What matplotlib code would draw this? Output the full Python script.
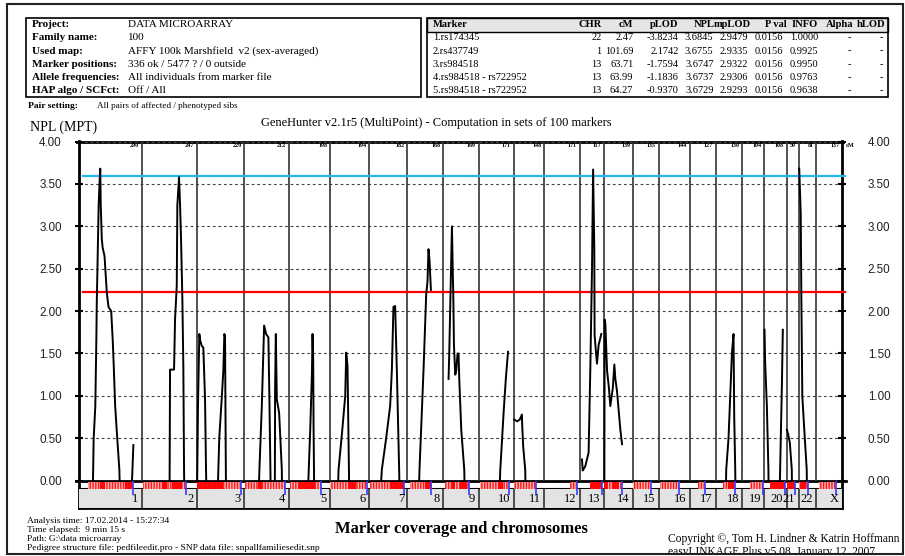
import numpy as np
import matplotlib
matplotlib.use('Agg')
import matplotlib.pyplot as plt
from matplotlib.patches import Rectangle
import matplotlib.transforms as mtransforms

plt.rcParams['hatch.linewidth'] = 1.0
SERIF = ['Liberation Serif', 'DejaVu Serif']
SANS = ['Liberation Sans', 'DejaVu Sans']

# ---------------- data ----------------
chrom_names = ['1', '2', '3', '4', '5', '6', '7', '8', '9', '10', '11', '12', '13',
               '14', '15', '16', '17', '18', '19', '20', '21', '22', 'X']
chrom_len = [300, 263, 228, 211, 198, 189, 182, 171, 169, 167, 147, 170, 116,
             139, 122, 148, 126, 127, 105, 107, 57, 83, 124]
chrom_len_labels = ['290', '247', '229', '212', '198', '194', '182', '168', '169', '171', '148', '171', '117',
                    '139', '135', '144', '127', '130', '104', '108', '59', '81', '137']

y_ticks = [0.0, 0.5, 1.0, 1.5, 2.0, 2.5, 3.0, 3.5, 4.0]
threshold_high = 3.59
threshold_low = 2.23

chr1a_cM = [65, 70, 78, 83, 85, 90, 94, 98, 101.7, 104, 109, 113, 122, 133, 141, 154, 161, 165, 173, 181, 193, 196]
chr1a_npl = [-0.3, 0.49, 0.88, 1.67, 2.1, 2.73, 3.25, 3.5, 3.68, 3.25, 2.85, 2.75, 2.65, 2.22, 2.05, 2.0, 1.67, 1.43, 0.88, 0.57, 0.13, -0.2]
chr1b_cM = [252, 260]
chr1b_npl = [-0.1, 0.42]
chr2_cM = [133, 135.4, 154.6, 159.3, 167.5, 170.3, 178.5, 183.3, 188, 194.3, 199, 202.4, 203.8]
chr2_npl = [-0.2, 1.31, 1.31, 1.9, 2.3, 3.25, 3.58, 3.25, 2.85, 2.15, 1.34, 0.13, -0.2]
chr3a_cM = [1.4, 6.2, 12.4, 17.2, 23.9, 31.6, 39.7, 44.5, 46.9]
chr3a_npl = [-0.2, 0.9, 1.73, 1.65, 1.59, 1.57, 0.97, 0.13, -0.2]
chr3b_cM = [99.5, 108.1, 119.6, 127.3, 132.1, 135.4, 138.8, 140.2]
chr3b_npl = [-0.2, 0.52, 0.97, 1.3, 1.73, 1.7, 0.3, -0.2]
chr4a_cM = [67.9, 71.8, 83.3, 94.3, 103.8, 114.8, 119.6, 124.4, 125.8]
chr4a_npl = [-0.2, 0.13, 0.88, 1.83, 1.73, 1.69, 0.96, 0.13, -0.2]
chr4b_cM = [145.5, 146.9, 150.3, 155.1, 166.1, 179, 180.4]
chr4b_npl = [-0.2, 1.1, 1.73, 0.96, 0.8, 0.13, -0.2]
chr5_cM = [91.9, 103.8, 112, 114.8, 118.2, 119.6, 123]
chr5_npl = [-0.2, 0.6, 1.27, 1.73, 1.4, 0.7, -0.2]
chr6_cM = [37.3, 41.2, 57.4, 73.2, 78, 84.2, 90.9, 92.4]
chr6_npl = [-0.2, 0.13, 0.55, 1.0, 1.51, 1.35, 0.13, -0.2]
chr7_cM = [51.2, 59.3, 79.9, 99, 107.2, 114.8, 123, 131.1, 142.1, 144.5]
chr7_npl = [-0.2, 0.13, 0.5, 0.88, 1.3, 2.05, 2.06, 1.3, 0.13, -0.2]
chr8_cM = [53.6, 57.4, 76.6, 89.5, 95.7, 100.5, 105.3, 112]
chr8_npl = [-0.2, 0.13, 1.3, 2.2, 2.35, 2.73, 2.6, 2.25]
chr9_cM = [25.4, 28.7, 35.9, 41.6, 44.5, 47.9, 51.2, 57.4, 62.2, 68.4, 73.2, 76.6, 86.1, 100.5, 102.9]
chr9_npl = [1.2, 1.5, 2.35, 3.0, 2.6, 2.2, 1.6, 1.25, 1.3, 1.5, 1.5, 1.2, 0.6, 0.13, -0.2]
chr10_cM = [99, 103.8, 119.6, 130.2, 140.7]
chr10_npl = [-0.2, 0.13, 0.8, 1.2, 1.52]
chr11_cM = [3.3, 17.7, 29.7, 40.2, 41.6, 46.4, 56, 58.4]
chr11_npl = [0.72, 0.7, 0.72, 0.78, 0.65, 0.4, 0.13, -0.2]
chr13_cM = [10.5, 14, 26.3, 42.1, 50.2, 58.4, 63.7, 69.4, 70.8, 77.5, 82.3, 90, 102.9]
chr13_npl = [0.25, 0.12, 0.17, 0.33, 1.3, 2.5, 3.67, 2.73, 1.72, 1.51, 1.38, 1.6, 1.73]
chr14_cM = [1.4, 2.9, 6.2, 14.4, 23, 30.1, 42.1, 49.3, 54.1, 62.2, 78, 86.1]
chr14_npl = [-0.2, 1.9, 1.85, 1.3, 1.1, 0.88, 1.1, 1.37, 1.2, 1.05, 0.6, 0.43]
chr18_cM = [46.9, 49.3, 60.3, 68.4, 76.6, 84.2, 87.6, 92.4, 93.9]
chr18_npl = [-0.2, 0.13, 0.5, 1.0, 1.5, 1.73, 0.75, 0.13, -0.2]
chr20a_cM = [0.5, 3.3, 11.5, 19.1, 20.6]
chr20a_npl = [1.78, 1.4, 0.9, 0.13, -0.2]
chr20b_cM = [72.7, 75.1, 83.3, 88]
chr20b_npl = [-0.2, 0.13, 1.1, 1.78]
chr21_cM = [0.5, 6.2, 14.4, 23.9, 25.4]
chr21_npl = [0.6, 0.55, 0.45, 0.13, -0.2]
chr22_cM = [2.47, 9.6, 11, 12.4, 17.2, 25.4, 38.3, 39.7]
chr22_npl = [3.68, 3.15, 2.7, 2.2, 1.0, 0.65, 0.13, -0.2]

# marker coverage (cM within chromosome)
marker_light = [('1', 43, 262), ('2', 8, 207), ('3', 0, 211), ('4', 3, 196), ('5', 8, 156),
                ('6', 0, 177), ('7', 3, 163), ('8', 13, 117), ('9', 10, 121), ('10', 8, 144),
                ('11', 0, 109), ('12', 124, 156), ('13', 50, 106), ('14', 1, 86), ('15', 1, 86),
                ('16', 8, 99), ('17', 42, 72), ('18', 35, 92), ('19', 37, 98), ('20', 27, 99),
                ('21', 0, 40), ('22', 0, 46), ('X', 16, 96)]
marker_dark = [('1', 100, 124), ('1', 220, 252), ('2', 96, 120), ('2', 144, 191), ('3', 0, 127),
               ('4', 66, 85), ('5', 46, 128), ('6', 88, 126), ('7', 99, 163), ('8', 85, 113),
               ('9', 42, 57), ('9', 81, 113), ('10', 94, 118), ('13', 50, 106), ('14', 1, 20),
               ('14', 40, 70), ('18', 59, 92), ('20', 27, 99), ('21', 0, 40), ('22', 6, 35)]
last_marker_cM = [260, 211, 211, 196, 156, 177, 163, 113, 121, 144, 109, 156, 106,
                  86, 86, 99, 72, 92, 98, 99, 40, 46, 96]

left_labels = ['Project:', 'Family name:', 'Used map:', 'Marker positions:',
               'Allele frequencies:', 'HAP algo / SCFct:']
left_values = ['DATA MICROARRAY', '100', 'AFFY 100k Marshfield  v2 (sex-averaged)',
               '336 ok / 5477 ? / 0 outside', 'All individuals from marker file', 'Off / All']

tbl_header = ['Marker', 'CHR', 'cM', 'pLOD', 'NPL', 'mpLOD', 'P val', 'INFO', 'Alpha', 'hLOD']
tbl_marker = ['1.rs174345', '2.rs437749', '3.rs984518', '4.rs984518 - rs722952', '5.rs984518 - rs722952']
tbl_chr = ['22', '1', '13', '13', '13']
tbl_cm = ['2.47', '101.69', '63.71', '63.99', '64.27']
tbl_plod = ['-3.8234', '2.1742', '-1.7594', '-1.1836', '-0.9370']
tbl_npl = ['3.6845', '3.6755', '3.6747', '3.6737', '3.6729']
tbl_mplod = ['2.9479', '2.9335', '2.9322', '2.9306', '2.9293']
tbl_pval = ['0.0156', '0.0156', '0.0156', '0.0156', '0.0156']
tbl_info = ['1.0000', '0.9925', '0.9950', '0.9763', '0.9638']
tbl_alpha = ['-', '-', '-', '-', '-']
tbl_hlod = ['-', '-', '-', '-', '-']

footer_lines = ['Analysis time: 17.02.2014 - 15:27:34', 'Time elapsed:  9 min 15 s',
                'Path: G:\\data microarray',
                'Pedigree structure file: pedfileedit.pro - SNP data file: snpallfamiliesedit.snp']

npl_segments = [('1', chr1a_cM, chr1a_npl), ('1', chr1b_cM, chr1b_npl), ('2', chr2_cM, chr2_npl),
                ('3', chr3a_cM, chr3a_npl), ('3', chr3b_cM, chr3b_npl), ('4', chr4a_cM, chr4a_npl),
                ('4', chr4b_cM, chr4b_npl), ('5', chr5_cM, chr5_npl), ('6', chr6_cM, chr6_npl),
                ('7', chr7_cM, chr7_npl), ('8', chr8_cM, chr8_npl), ('9', chr9_cM, chr9_npl),
                ('10', chr10_cM, chr10_npl), ('11', chr11_cM, chr11_npl), ('13', chr13_cM, chr13_npl),
                ('14', chr14_cM, chr14_npl), ('18', chr18_cM, chr18_npl), ('20', chr20a_cM, chr20a_npl),
                ('20', chr20b_cM, chr20b_npl), ('21', chr21_cM, chr21_npl), ('22', chr22_cM, chr22_npl)]

# ---------------- figure ----------------
W, H = 905, 556
fig = plt.figure(figsize=(W / 100, H / 100), dpi=100)
bg = fig.add_axes([0, 0, 1, 1])
bg.set_xlim(0, W)
bg.set_ylim(H, 0)
bg.axis('off')


def px_axes(x0, y0, x1, y1):
    return [x0 / W, 1 - y1 / H, (x1 - x0) / W, (y1 - y0) / H]


ends = np.cumsum(chrom_len)
offsets = ends - np.array(chrom_len)
off = dict(zip(chrom_names, offsets))
total = ends[-1]

PX0, PX1, PY0, PY1 = 79, 842, 141.5, 480.7

ax = fig.add_axes(px_axes(PX0, PY0, PX1, PY1))
ax.set_xlim(0, total)
ax.set_ylim(0, 4)
ax.patch.set_alpha(0)
for s in ax.spines.values():
    s.set_visible(False)
ax.set_xticks([])
ax.set_yticks(y_ticks)
ax.set_yticklabels(['%.2f' % v for v in y_ticks], family=SANS, fontsize=8.4, color='#222222')
ax.tick_params(axis='y', direction='inout', length=6, width=1.5, pad=9.5)
ax.yaxis.grid(True, linestyle=(0, (2.5, 2.5)), color='#444444', lw=0.8)
ax.set_axisbelow(True)

ax2 = ax.twinx()
ax2.set_ylim(0, 4)
for s in ax2.spines.values():
    s.set_visible(False)
ax2.set_yticks(y_ticks)
ax2.set_yticklabels(['%.2f' % v for v in y_ticks], family=SANS, fontsize=8.4, color='#222222')
ax2.tick_params(axis='y', direction='inout', length=6, width=1.5, pad=15.5)

# chromosome boundaries
ax.vlines(ends[:-1], 0, 4, color='#333333', lw=1.2, zorder=1.5)

# chromosome length labels
for e, lab in zip(ends, chrom_len_labels):
    ax.annotate(lab, (e, 4), xytext=(-2, -3), textcoords='offset points', ha='right', va='center',
                fontsize=4.3, fontweight='bold', family=SERIF, annotation_clip=False)
ax.annotate('cM', (1, 1), xycoords='axes fraction', xytext=(2.5, -3), textcoords='offset points',
            ha='left', va='center', fontsize=4.5, fontweight='bold', family=SERIF)

# thresholds
trans = mtransforms.blended_transform_factory(ax.transAxes, ax.transData)
ax.plot([0.005, 1.004], [threshold_high, threshold_high], transform=trans, clip_on=False,
        color='#29b6ee', lw=1.6, zorder=2)
ax.plot([0.005, 1.004], [threshold_low, threshold_low], transform=trans, clip_on=False,
        color='#ff0000', lw=1.6, zorder=2)

# NPL curve
for ch, pos, val in npl_segments:
    ax.plot(off[ch] + np.array(pos), val, color='black', lw=1.4, zorder=3)

# marker strip
st = fig.add_axes(px_axes(PX0, PY1, PX1, 507.7))
st.set_xlim(0, total)
st.set_ylim(27, 0)
st.axis('off')
for ch, a, b in marker_light:
    st.add_patch(Rectangle((off[ch] + a, 0.9), b - a, 7.7, facecolor='#ffb4b4', edgecolor='#ff1a1a',
                           hatch='||||||', lw=0, zorder=1))
for ch, a, b in marker_dark:
    st.add_patch(Rectangle((off[ch] + a, 0.9), b - a, 7.7, facecolor='#ff2020', edgecolor='#ff0000',
                           hatch='|||||||||', lw=0, zorder=1.2))
st.add_patch(Rectangle((0, 8.6), total, 18.4, facecolor='#e3e3e3', edgecolor='none', zorder=1.5))
st.vlines(ends[:-1], 8.6, 27, color='#333333', lw=1.2, zorder=2)
st.vlines(offsets + np.array(last_marker_cM), 0, 14.3, color='#3a3aff', lw=1.2, zorder=3)
for e, name in zip(ends, chrom_names):
    st.annotate(name, (e, 18.3), xytext=(-2.5, 0), textcoords='offset points', ha='right',
                va='center', fontsize=9, family=SERIF, zorder=4)

# frame lines of plot
bg.plot([PX0, PX0], [PY0 - 0.5, 507.7], color='black', lw=2, zorder=5)
bg.plot([PX1, PX1], [PY0 - 0.5, 507.7], color='black', lw=2, zorder=5)
bg.plot([77, 843], [PY0, PY0], color='black', lw=2, zorder=5)
bg.plot([76, 846], [PY1, PY1], color='black', lw=2, zorder=5)
bg.plot([PX0, PX1], [489.3, 489.3], color='black', lw=1.5, zorder=5)
bg.plot([PX0, PX1], [507.7, 507.7], color='black', lw=2, zorder=5)

# header tables
bg.add_patch(Rectangle((26, 18.3), 395, 78.4, fill=False, lw=1.2, edgecolor='black'))
bg.add_patch(Rectangle((427.3, 18.3), 461, 13.4, facecolor='#e6e6e6', edgecolor='black', lw=1.0))
bg.add_patch(Rectangle((427.3, 18.3), 461, 78.4, fill=False, lw=1.2, edgecolor='black'))
row_y = [24.6 + 13.2 * i for i in range(6)]
for i, (lab, val) in enumerate(zip(left_labels, left_values)):
    bg.text(31.5, row_y[i], lab, fontsize=8, fontweight='bold', family=SERIF, va='center', ha='left')
    bg.text(128.3, row_y[i], val, fontsize=8, family=SERIF, va='center', ha='left')

col_x = [432.7, 601.7, 633.3, 678.3, 714.5, 750.5, 786.7, 818.0, 853.3, 885.0]
val_x = [432.7, 601.7, 633.3, 678.5, 713.5, 748.3, 783.5, 818.0, 851.0, 883.5]
for j, h in enumerate(tbl_header):
    bg.text(col_x[j], row_y[0], h, fontsize=7.6, fontweight='bold', family=SERIF, va='center',
            ha='left' if j == 0 else 'right')
cols = [tbl_marker, tbl_chr, tbl_cm, tbl_plod, tbl_npl, tbl_mplod, tbl_pval, tbl_info, tbl_alpha, tbl_hlod]
for j, col in enumerate(cols):
    for i, v in enumerate(col):
        bg.text(val_x[j], row_y[i + 1], v, fontsize=7.5, family=SERIF, va='center',
                ha='left' if j == 0 else 'right')

bg.text(28, 106.5, 'Pair setting:', fontsize=6.8, fontweight='bold', family=SERIF, va='center')
bg.text(97, 106, 'All pairs of affected / phenotyped sibs', fontsize=6.6, family=SERIF, va='center')
bg.text(30, 127, 'NPL (MPT)', fontsize=10, family=SERIF, va='center')
bg.text(436, 123, 'GeneHunter v2.1r5 (MultiPoint) - Computation in sets of 100 markers',
        fontsize=9, family=SERIF, va='center', ha='center')

# footer
for i, line in enumerate(footer_lines):
    bg.text(26.7, 521 + 9.1 * i, line, fontsize=6.8, family=SERIF, va='center', ha='left')
bg.text(461, 529, 'Marker coverage and chromosomes', fontsize=12, fontweight='bold', family=SERIF,
        va='center', ha='center')
bg.text(668, 539.3, 'Copyright \u00a9, Tom H. Lindner & Katrin Hoffmann', fontsize=8.3, family=SERIF,
        va='center', ha='left')
bg.text(668, 552, 'easyLINKAGE Plus v5.08, January 12, 2007', fontsize=8.3, family=SERIF,
        va='center', ha='left', zorder=1)
bg.add_patch(Rectangle((0, 554), W, 3, facecolor='white', edgecolor='none', zorder=2))
bg.add_patch(Rectangle((7, 4), 896, 550, fill=False, lw=1.5, edgecolor='#222222', zorder=6))

fig.savefig('out.png', dpi=100)
